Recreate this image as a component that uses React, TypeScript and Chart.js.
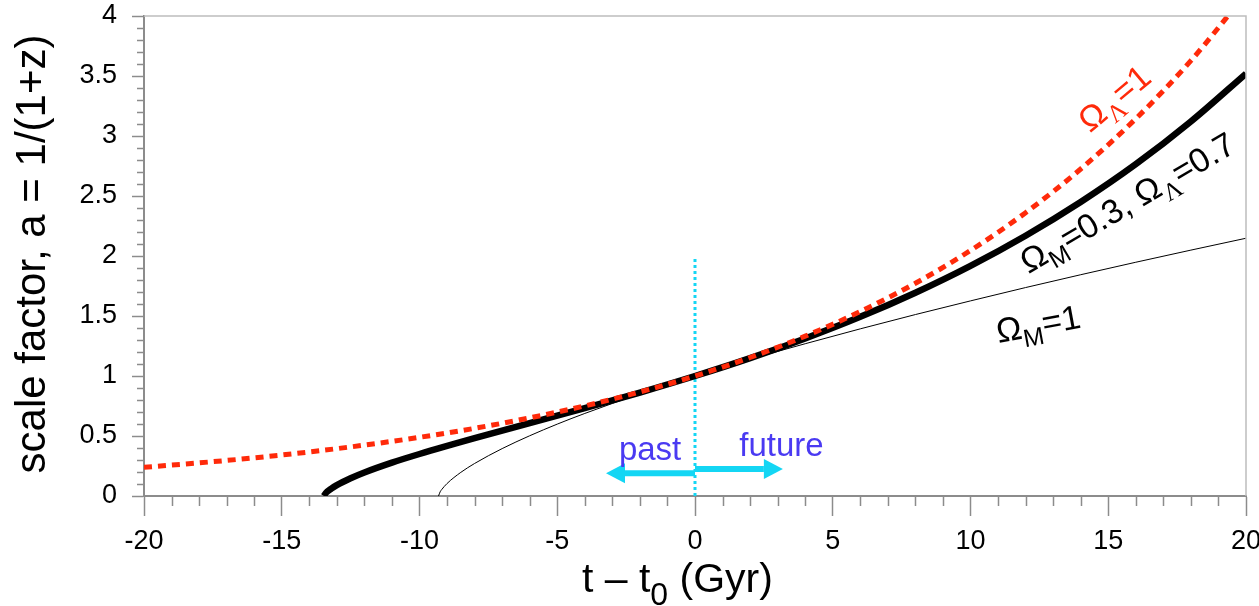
import React, { useEffect, useRef } from 'react';
import { Chart, registerables } from 'chart.js';

Chart.register(...registerables);

// Axis ranges and tick spacing
const timeRange = [-20, 20];
const scaleRange = [0, 4];
const timeMajorStep = 5;
const timeMinorStep = 1;
const scaleMajorStep = 0.5;
const scaleMinorStep = 0.1;

// Pure cosmological constant, ΩΛ = 1
const lambdaTime = [-20, -18, -16, -14, -12, -10, -8, -6, -4, -2, 0, 2, 4, 6, 8, 10, 12, 14, 16, 18, 20];
const lambdaScale = [0.239, 0.276, 0.318, 0.367, 0.424, 0.489, 0.564, 0.651, 0.751, 0.867, 1.0, 1.154, 1.332, 1.537, 1.773, 2.046, 2.361, 2.725, 3.144, 3.628, 4.187];

// Flat model with ΩM = 0.3, ΩΛ = 0.7
const concordanceTime = [-13.47, -13.4, -13.2, -13, -12.5, -12, -11, -10, -8, -6, -4, -2, 0, 2, 4, 6, 8, 10, 12, 14, 16, 18, 20];
const concordanceScale = [0, 0.025, 0.062, 0.091, 0.148, 0.196, 0.278, 0.35, 0.482, 0.607, 0.732, 0.862, 1.0, 1.149, 1.313, 1.493, 1.694, 1.918, 2.169, 2.45, 2.765, 3.121, 3.52];

// Matter only, ΩM = 1
const matterTime = [-9.31, -9.25, -9.2, -9, -8.5, -8, -7, -6, -5, -4, -2, 0, 2, 4, 6, 8, 10, 12, 14, 16, 18, 20];
const matterScale = [0, 0.035, 0.052, 0.104, 0.197, 0.271, 0.395, 0.502, 0.599, 0.688, 0.851, 1.0, 1.139, 1.269, 1.393, 1.512, 1.626, 1.737, 1.844, 1.948, 2.049, 2.148];

// "Today" marker at t = t0
const nowTime = [0, 0];
const nowScale = [0, 2];

// Past / future arrows: [tail time, tip time], drawn at the given scale factor
const pastArrowTime = [0, -3.23];
const pastArrowScale = 0.19;
const futureArrowTime = [0, 3.19];
const futureArrowScale = 0.225;

const SANS = "'Liberation Sans', Arial, Helvetica, sans-serif";
const SERIF = "'Liberation Serif', 'Times New Roman', serif";
const RED = '#ff2a0a';
const CYAN = '#14d6f4';
const BLUE = '#4a3af2';
const AXIS_GREY = '#8c8c8c';

type Seg = { text: string; size: number; family: string; dy: number };

const sub = (text: string, family = SANS): Seg => ({ text, size: 25, family, dy: 9 });
const main = (text: string, family = SANS): Seg => ({ text, size: 34, family, dy: 0 });

// Curve labels, anchored in data coordinates
const curveLabels = [
  { t: 15.2, a: 3.32, angle: -40, color: RED, segs: [main('Ω'), sub('Λ', SERIF), main('=1')] },
  {
    t: 15.68, a: 2.45, angle: -30.5, color: '#000',
    segs: [main('Ω'), sub('M'), main('=0.3, '), main('Ω'), sub('Λ', SERIF), main('=0.7')],
  },
  { t: 12.45, a: 1.44, angle: -10.5, color: '#000', segs: [main('Ω'), sub('M'), main('=1')] },
];

const toPoints = (xs: number[], ys: number[]) => xs.map((x, i) => ({ x, y: ys[i] }));

function drawRich(ctx: CanvasRenderingContext2D, segs: Seg[], cx: number, cy: number, angle: number, color: string) {
  ctx.save();
  ctx.translate(cx, cy);
  ctx.rotate((angle * Math.PI) / 180);
  ctx.fillStyle = color;
  ctx.textAlign = 'left';
  ctx.textBaseline = 'alphabetic';
  const widths = segs.map((s) => {
    ctx.font = `${s.size}px ${s.family}`;
    return ctx.measureText(s.text).width;
  });
  const total = widths.reduce((p, w) => p + w, 0);
  const shift = 0.36 * 34;
  let x = -total / 2;
  segs.forEach((s, i) => {
    ctx.font = `${s.size}px ${s.family}`;
    ctx.fillText(s.text, x, shift + s.dy);
    x += widths[i];
  });
  ctx.restore();
}

function drawArrow(ctx: CanvasRenderingContext2D, x0: number, x1: number, y: number) {
  const dir = Math.sign(x1 - x0);
  const headLen = 19;
  const headHalf = 10;
  ctx.save();
  ctx.strokeStyle = CYAN;
  ctx.fillStyle = CYAN;
  ctx.lineWidth = 6;
  ctx.beginPath();
  ctx.moveTo(x0, y);
  ctx.lineTo(x1 - dir * headLen, y);
  ctx.stroke();
  ctx.beginPath();
  ctx.moveTo(x1, y);
  ctx.lineTo(x1 - dir * headLen, y - headHalf);
  ctx.lineTo(x1 - dir * headLen, y + headHalf);
  ctx.closePath();
  ctx.fill();
  ctx.restore();
}

const decorations = {
  id: 'decorations',
  afterDatasetsDraw(chart: any) {
    const { ctx, scales } = chart;
    const xs = scales.x;
    const ys = scales.y;

    drawArrow(ctx, xs.getPixelForValue(pastArrowTime[0]), xs.getPixelForValue(pastArrowTime[1]), ys.getPixelForValue(pastArrowScale));
    drawArrow(ctx, xs.getPixelForValue(futureArrowTime[0]), xs.getPixelForValue(futureArrowTime[1]), ys.getPixelForValue(futureArrowScale));

    ctx.save();
    ctx.fillStyle = BLUE;
    ctx.font = `33px ${SANS}`;
    ctx.textAlign = 'center';
    ctx.textBaseline = 'alphabetic';
    ctx.fillText('past', xs.getPixelForValue(-1.63), ys.getPixelForValue(0.3));
    ctx.fillText('future', xs.getPixelForValue(3.14), ys.getPixelForValue(0.333));
    ctx.restore();

    curveLabels.forEach((l) => {
      drawRich(ctx, l.segs, xs.getPixelForValue(l.t), ys.getPixelForValue(l.a), l.angle, l.color);
    });
  },
  afterDraw(chart: any) {
    const { ctx, chartArea: ca, scales } = chart;
    const xs = scales.x;
    const ys = scales.y;
    ctx.save();

    // top and right frame
    ctx.strokeStyle = '#bdbdbd';
    ctx.lineWidth = 1.5;
    ctx.beginPath();
    ctx.moveTo(ca.left, ca.top);
    ctx.lineTo(ca.right, ca.top);
    ctx.lineTo(ca.right, ca.bottom);
    ctx.stroke();

    // minor ticks
    ctx.strokeStyle = AXIS_GREY;
    ctx.lineWidth = 1.5;
    ctx.beginPath();
    const nx = Math.round((timeRange[1] - timeRange[0]) / timeMinorStep);
    for (let i = 0; i <= nx; i++) {
      const v = timeRange[0] + i * timeMinorStep;
      if (Math.abs(v % timeMajorStep) < 1e-9) continue;
      const px = Math.round(xs.getPixelForValue(v)) + 0.5;
      ctx.moveTo(px, ca.bottom);
      ctx.lineTo(px, ca.bottom + 10);
    }
    const ny = Math.round((scaleRange[1] - scaleRange[0]) / scaleMinorStep);
    const perMajor = Math.round(scaleMajorStep / scaleMinorStep);
    for (let i = 0; i <= ny; i++) {
      if (i % perMajor === 0) continue;
      const v = scaleRange[0] + i * scaleMinorStep;
      const py = Math.round(ys.getPixelForValue(v)) + 0.5;
      ctx.moveTo(ca.left - 7, py);
      ctx.lineTo(ca.left, py);
    }
    ctx.stroke();

    // axis titles
    ctx.fillStyle = '#000';
    ctx.textBaseline = 'alphabetic';
    ctx.textAlign = 'left';
    let x = 582;
    const base = 592;
    const parts: Seg[] = [
      { text: 't – t', size: 41, family: SANS, dy: 0 },
      { text: '0', size: 32, family: SANS, dy: 13 },
      { text: ' (Gyr)', size: 41, family: SANS, dy: 0 },
    ];
    parts.forEach((p) => {
      ctx.font = `${p.size}px ${p.family}`;
      ctx.fillText(p.text, x, base + p.dy);
      x += ctx.measureText(p.text).width;
    });

    ctx.translate(45, (ca.top + ca.bottom) / 2 - 2);
    ctx.rotate(-Math.PI / 2);
    ctx.textAlign = 'center';
    ctx.font = `42px ${SANS}`;
    ctx.fillText('scale factor, a = 1/(1+z)', 0, 0);
    ctx.restore();
  },
};

export default function App() {
  const canvasRef = useRef<HTMLCanvasElement | null>(null);

  useEffect(() => {
    const canvas = canvasRef.current;
    if (!canvas) return;
    const chart = new Chart(canvas, {
      type: 'line',
      data: {
        datasets: [
          {
            label: 'ΩΛ=1',
            data: toPoints(lambdaTime, lambdaScale),
            borderColor: RED,
            borderWidth: 5,
            borderDash: [8, 6],
            pointRadius: 0,
            cubicInterpolationMode: 'monotone',
            order: 0,
          },
          {
            label: 'ΩM=0.3, ΩΛ=0.7',
            data: toPoints(concordanceTime, concordanceScale),
            borderColor: '#000',
            borderWidth: 6.5,
            pointRadius: 0,
            cubicInterpolationMode: 'monotone',
            order: 1,
          },
          {
            label: 'ΩM=1',
            data: toPoints(matterTime, matterScale),
            borderColor: '#000',
            borderWidth: 1,
            pointRadius: 0,
            cubicInterpolationMode: 'monotone',
            order: 2,
          },
          {
            label: 't0',
            data: toPoints(nowTime, nowScale),
            borderColor: CYAN,
            borderWidth: 3,
            borderDash: [3, 3],
            pointRadius: 0,
            order: 3,
          },
        ],
      },
      options: {
        animation: false,
        responsive: false,
        devicePixelRatio: 1,
        layout: { padding: { top: 16, right: 13, left: 0, bottom: 0 } },
        plugins: { legend: { display: false }, tooltip: { enabled: false }, title: { display: false } },
        scales: {
          x: {
            type: 'linear',
            min: timeRange[0],
            max: timeRange[1],
            ticks: {
              stepSize: timeMajorStep,
              autoSkip: false,
              maxRotation: 0,
              padding: 9,
              color: '#000',
              font: { family: SANS, size: 27 },
              callback: (v: any) => String(v),
            },
            grid: { drawOnChartArea: false, tickLength: 20, tickColor: AXIS_GREY, tickWidth: 1.5 },
            border: { color: AXIS_GREY, width: 2 },
            afterFit: (s: any) => {
              s.height = 110;
              s.paddingLeft = 0;
              s.paddingRight = 0;
            },
          },
          y: {
            type: 'linear',
            min: scaleRange[0],
            max: scaleRange[1],
            ticks: {
              stepSize: scaleMajorStep,
              padding: 15,
              color: '#000',
              font: { family: SANS, size: 27 },
              callback: (v: any) => String(Math.round(Number(v) * 10) / 10),
            },
            grid: { drawOnChartArea: false, tickLength: 12, tickColor: AXIS_GREY, tickWidth: 1.5 },
            border: { color: AXIS_GREY, width: 2 },
            afterFit: (s: any) => {
              s.width = 144;
              s.paddingTop = 0;
              s.paddingBottom = 0;
            },
          },
        },
      } as any,
      plugins: [decorations],
    });
    return () => chart.destroy();
  }, []);

  return (
    <div style={{ position: 'fixed', left: 0, top: 0, width: 1259, height: 606, background: '#fff' }}>
      <canvas ref={canvasRef} width={1259} height={606} style={{ display: 'block', width: 1259, height: 606 }} />
    </div>
  );
}
